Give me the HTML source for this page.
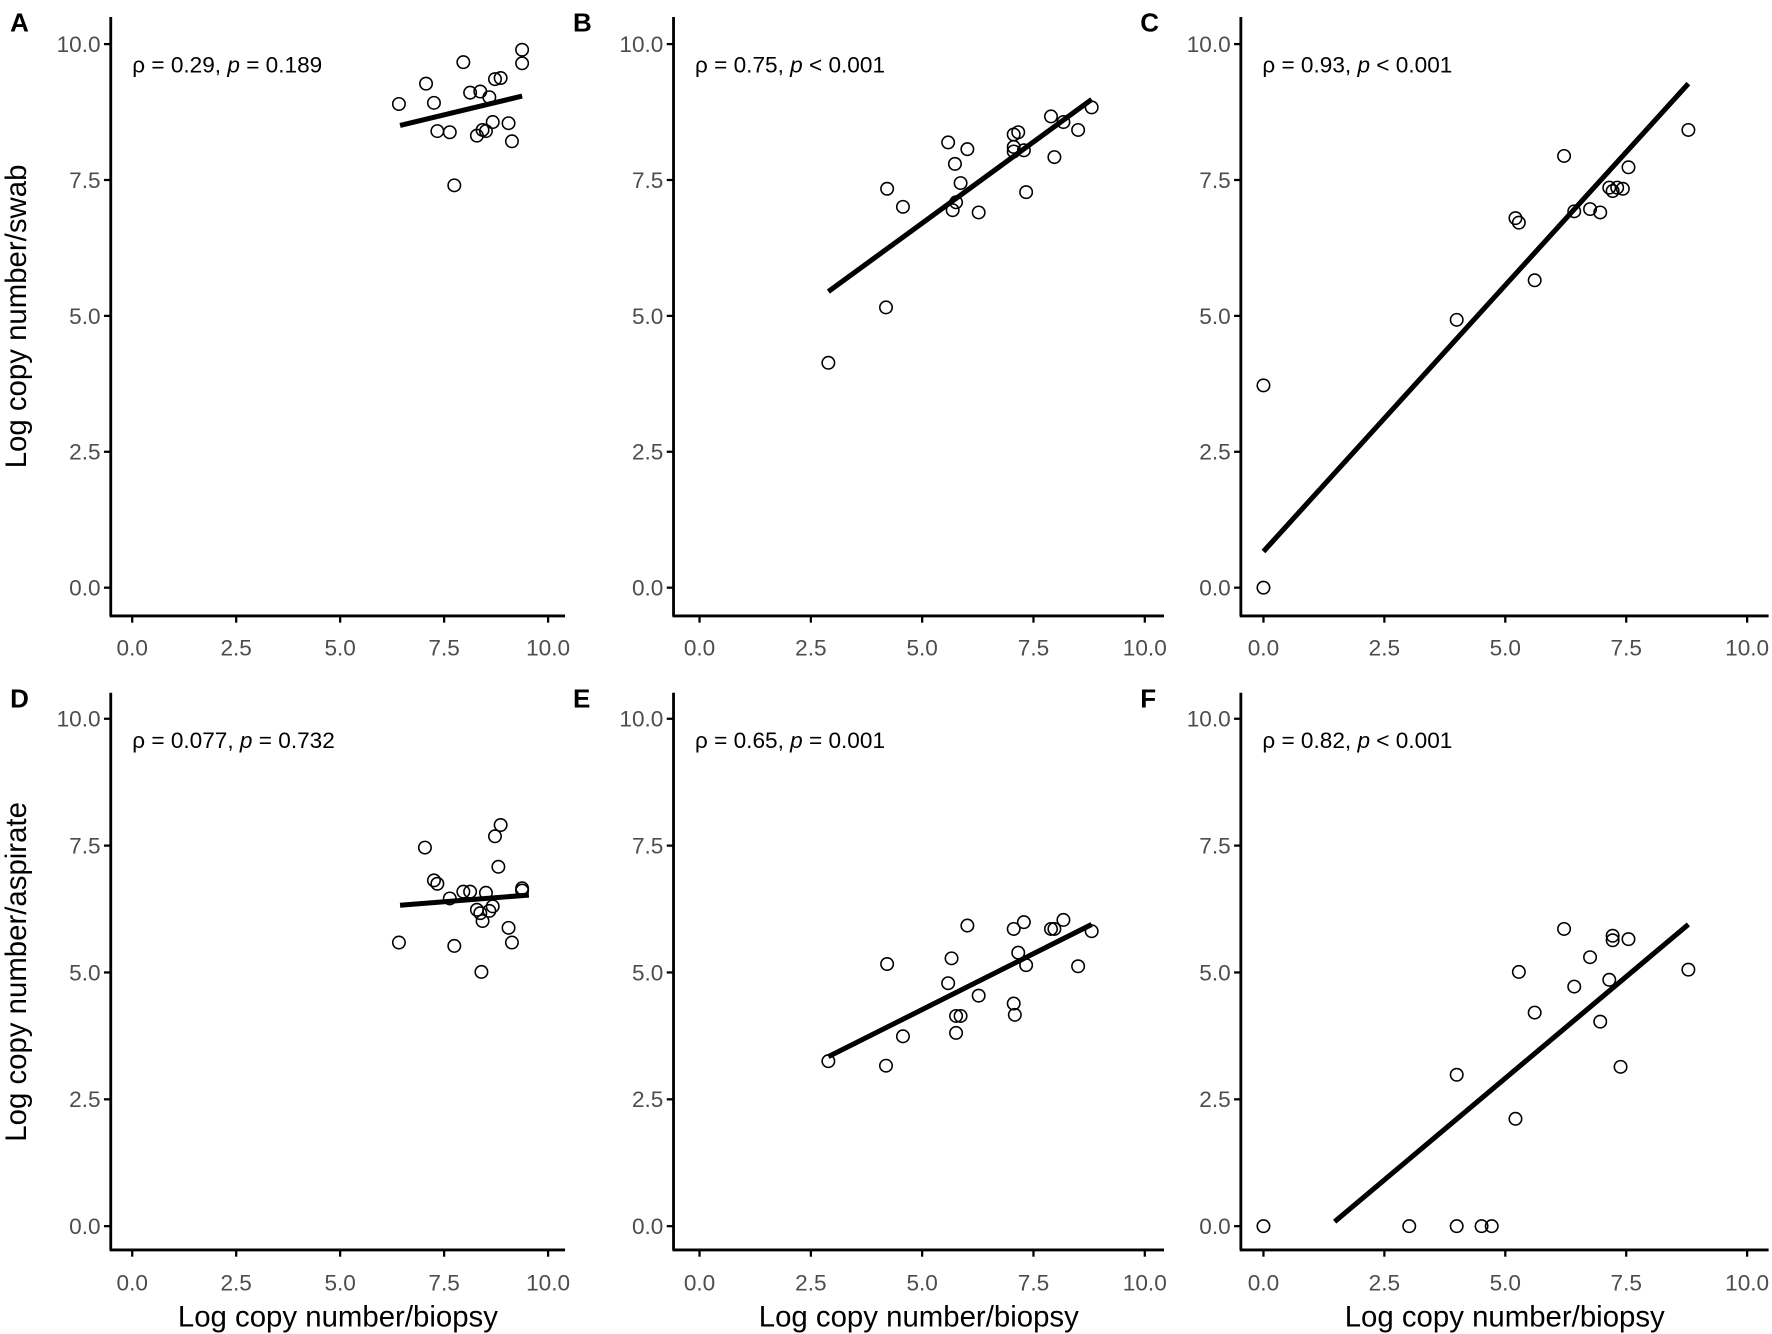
<!DOCTYPE html>
<html><head><meta charset="utf-8"><style>html,body{margin:0;padding:0;background:#fff}svg{display:block}</style></head><body>
<svg width="1772" height="1334" viewBox="0 0 1568 1180.4" xmlns="http://www.w3.org/2000/svg" font-family="Liberation Sans, sans-serif">
<g id="all"></g>
<script>
const S='http://www.w3.org/2000/svg',g=document.getElementById('all');
function el(t,a,txt){const e=document.createElementNS(S,t);for(const k in a)e.setAttribute(k,a[k]);if(txt!=null)e.textContent=txt;g.appendChild(e);return e;}
const cols=[{ax:98,x0:117,u:36.8,end:500},{ax:596,x0:619,u:39.4,end:1030},{ax:1098,x0:1118,u:42.8,end:1565}];
const rows=[{y10:39,y0:520,xa:545,top:15,tl:580},{y10:636,y0:1085,xa:1106,top:613,tl:1142}];
const letters=[['A','B','C'],['D','E','F']];
const ann=[['ρ = 0.29, ','0.189','= '],['ρ = 0.75, ','0.001','< '],['ρ = 0.93, ','0.001','< '],['ρ = 0.077, ','0.732','= '],['ρ = 0.65, ','0.001','= '],['ρ = 0.82, ','0.001','< ']];
const labs=['0.0','2.5','5.0','7.5','10.0'];
rows.forEach((r,ri)=>cols.forEach((c,ci)=>{
 el('line',{x1:c.ax,y1:r.top,x2:c.ax,y2:r.xa,stroke:'#000','stroke-width':2.5});
 el('line',{x1:c.ax-1,y1:r.xa,x2:c.end,y2:r.xa,stroke:'#000','stroke-width':2.5});
 for(let i=0;i<5;i++){
  const y=r.y0-(r.y0-r.y10)*i/4;
  el('line',{x1:c.ax-6,y1:y,x2:c.ax,y2:y,stroke:'#000','stroke-width':2});
  el('text',{x:c.ax-9,y:y+7,'text-anchor':'end','font-size':20,fill:'#4d4d4d'},labs[i]);
  const x=c.x0+c.u*2.5*i;
  el('line',{x1:x,y1:r.xa,x2:x,y2:r.xa+6,stroke:'#000','stroke-width':2});
  el('text',{x:x,y:r.tl,'text-anchor':'middle','font-size':20,fill:'#4d4d4d'},labs[i]);
 }
 el('text',{x:c.ax-89,y:r.top+13,'font-size':23,'font-weight':'bold'},letters[ri][ci]);
 const a=ann[ri*3+ci];
 const t=el('text',{x:c.ax+19,y:r.top+49,'font-size':20});
 const s1=document.createElementNS(S,'tspan');s1.textContent=a[0];t.appendChild(s1);
 const s2=document.createElementNS(S,'tspan');s2.setAttribute('font-style','italic');s2.textContent='p';t.appendChild(s2);
 const s3=document.createElementNS(S,'tspan');s3.textContent=' '+a[2]+a[1];t.appendChild(s3);
 if(ri==1)el('text',{x:(c.ax+c.end)/2,y:1174,'text-anchor':'middle','font-size':26},'Log copy number/biopsy');
}));
el('text',{x:0,y:0,transform:'translate(23,280) rotate(-90)','text-anchor':'middle','font-size':26},'Log copy number/swab');
el('text',{x:0,y:0,transform:'translate(23,860) rotate(-90)','text-anchor':'middle','font-size':26},'Log copy number/aspirate');
const P=[
{pts:[[353,92],[377,74],[384,91],[387,116],[398,117],[402,164],[410,55],[416,82],[422,120],[425,81],[427,115],[430,116],[433,86],[436,108],[438,70],[443,69],[450,109],[453,125],[462,56],[462,44]],l:[354,111,462,85]},
{pts:[[733,321],[784,272],[785,167],[799,183],[839,126],[845,145],[846,179],[843,186],[850,162],[856,132],[866,188],[897,119],[897,130],[897,134],[901,117],[906,133],[908,170],[930,103],[933,139],[941,108],[954,115],[966,95]],l:[733,258,966,88]},
{pts:[[1118,520],[1118,341],[1289,283],[1341,193],[1344,197],[1358,248],[1384,138],[1393,187],[1407,185],[1416,188],[1424,166],[1427,169],[1431,166],[1436,167],[1441,148],[1494,115]],l:[1118,488,1494,74]},
{pts:[[353,834],[376,750],[384,779],[387,782],[398,795],[402,837],[410,789],[416,789],[422,805],[425,808],[427,815],[430,790],[433,806],[436,802],[438,740],[443,730],[441,767],[450,821],[453,834],[462,786],[462,788],[426,860]],l:[354,801,468,792]},
{pts:[[733,939],[784,943],[785,853],[799,917],[839,870],[842,848],[846,914],[846,899],[850,899],[856,819],[866,881],[897,822],[897,888],[898,898],[901,843],[906,816],[908,854],[930,822],[933,822],[941,814],[954,855],[966,824]],l:[733,935,966,818]},
{pts:[[1118,1085],[1247,1085],[1289,951],[1289,1085],[1311,1085],[1320,1085],[1341,990],[1344,860],[1358,896],[1384,822],[1393,873],[1407,847],[1416,904],[1424,867],[1427,828],[1427,832],[1441,831],[1434,944],[1494,858]],l:[1181,1081,1494,818]}];
P.forEach(p=>{
 el('line',{x1:p.l[0],y1:p.l[1],x2:p.l[2],y2:p.l[3],stroke:'#000','stroke-width':4.5});
 p.pts.forEach(q=>el('circle',{cx:q[0],cy:q[1],r:5.5,fill:'none',stroke:'#000','stroke-width':1.4}));
});
</script>
</svg>
</body></html>
